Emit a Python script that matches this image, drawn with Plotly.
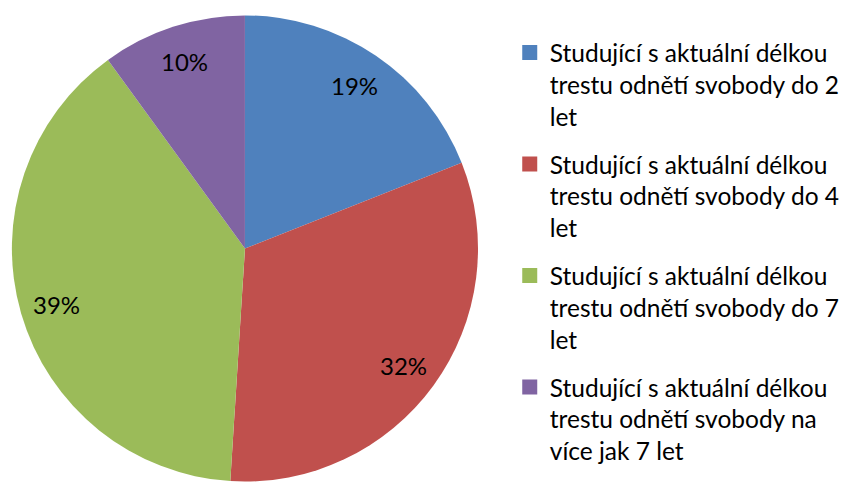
import math
import plotly.graph_objects as go

categories = [
    "Studující s aktuální délkou<br>trestu odnětí svobody do 2<br>let",
    "Studující s aktuální délkou<br>trestu odnětí svobody do 4<br>let",
    "Studující s aktuální délkou<br>trestu odnětí svobody do 7<br>let",
    "Studující s aktuální délkou<br>trestu odnětí svobody na<br>více jak 7 let",
]
values = [19, 32, 39, 10]
colors = ["#4F81BD", "#C0504D", "#9BBB59", "#8064A2"]

W, H = 845, 483
FONT = "Lato"

# pie geometry in pixels
px_left, px_right = 12, 482
py_top = 14
r_px = (px_right - px_left) / 2
cx = (px_left + px_right) / 2
cy = py_top + r_px

fig = go.Figure()
fig.add_trace(go.Pie(
    labels=[c.replace("<br>", " ") for c in categories],
    values=values,
    sort=False,
    direction="clockwise",
    rotation=0,
    marker=dict(colors=colors, line=dict(width=0)),
    textinfo="none",
    hoverinfo="label+percent",
    showlegend=False,
    domain=dict(x=[px_left / W, px_right / W], y=[0, 1 - py_top / H]),
))

# legend entries (one group per slice)
for i, (cat, col) in enumerate(zip(categories, colors)):
    fig.add_trace(go.Scatter(
        x=[None], y=[None], mode="markers", name=cat,
        marker=dict(symbol="square", size=15, color=col),
        legendgroup=f"g{i}", showlegend=True, hoverinfo="skip",
    ))

# percentage labels placed along each slice's mid-angle
total = sum(values)
annotations = []
cum = 0
for v in values:
    mid = (cum + v / 2) / total * 2 * math.pi
    cum += v
    rl = 0.84 * r_px
    lx = cx + rl * math.sin(mid)
    ly = cy - rl * math.cos(mid)
    annotations.append(dict(
        x=lx / W, y=1 - ly / H, xref="paper", yref="paper",
        text=f"{round(v / total * 100)}%", showarrow=False,
        font=dict(family=FONT, size=24, color="black"),
        xanchor="center", yanchor="middle",
    ))

fig.update_layout(
    width=W, height=H,
    margin=dict(l=0, r=0, t=0, b=0),
    paper_bgcolor="white", plot_bgcolor="white",
    xaxis=dict(visible=False, domain=[0.99, 1]),
    yaxis=dict(visible=False, domain=[0.99, 1]),
    annotations=annotations,
    legend=dict(
        x=514 / W, y=1 - 30 / H, xanchor="left", yanchor="top",
        font=dict(family=FONT, size=24.5, color="black"),
        tracegroupgap=13, itemwidth=30, valign="top",
        bgcolor="rgba(0,0,0,0)",
    ),
    showlegend=True,
)

fig.write_html("out.html", config={"displayModeBar": False},
               post_script="document.body.style.margin='0';")
